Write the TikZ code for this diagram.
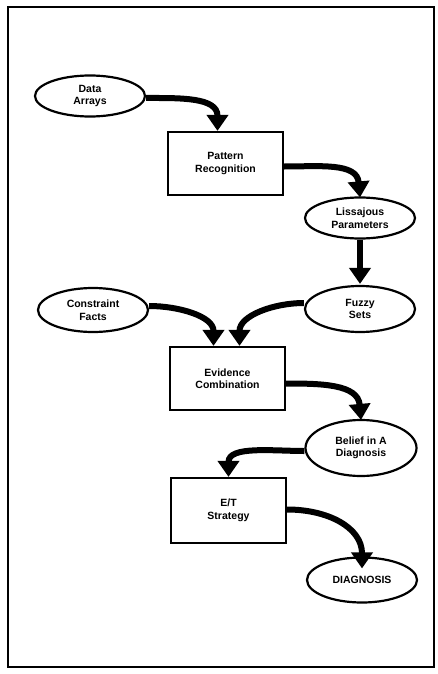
\documentclass[tikz,border=0pt]{standalone}
\usepackage{fontspec}
\setmainfont{Liberation Sans}
\usetikzlibrary{shapes.geometric,arrows.meta}
\begin{document}
\begin{tikzpicture}[x=1pt,y=-1pt,
  lbl/.style={font=\fontsize{10.5}{12.5}\selectfont\bfseries, align=center},
  oval/.style={lbl, ellipse, draw, line width=2.2pt, inner sep=0pt},
  boxnode/.style={lbl, rectangle, draw, line width=2.2pt, inner sep=0pt, minimum width=115pt, minimum height=63pt},
  arr/.style={line width=6pt, -{Triangle[width=21pt,length=16pt]}}]
\useasboundingbox (0,0) rectangle (437,674);
\draw[line width=1.4pt] (8,7) rectangle (434,667);
% nodes
\node[oval, minimum width=110pt, minimum height=41pt] (da) at (90,96) {Data\\Arrays};
\node[boxnode] (pr) at (225.5,163.5) {Pattern\\Recognition};
\node[oval, minimum width=110pt, minimum height=41pt] (lp) at (360,218) {Lissajous\\Parameters};
\node[oval, minimum width=110pt, minimum height=46pt] (fs) at (360,309) {Fuzzy\\Sets};
\node[oval, minimum width=110pt, minimum height=44pt] (cf) at (93,310) {Constraint\\Facts};
\node[boxnode] (ec) at (227.5,378.5) {Evidence\\Combination};
\node[oval, minimum width=111pt, minimum height=56pt] (bd) at (361,448) {Belief in A\\Diagnosis};
\node[boxnode, minimum height=65pt] (et) at (228.5,510.5) {E/T\\Strategy};
\node[oval, minimum width=110pt, minimum height=45pt] (dg) at (362,580) {DIAGNOSIS};
% connectors
\draw[arr] (da.east) ++(0,2) to[out=0,in=90,looseness=1.1] ([xshift=-8pt]pr.north);
\draw[arr] ([yshift=-3pt]pr.east) to[out=0,in=95,looseness=1.1] ([yshift=-1pt]lp.north);
\draw[arr] (lp.south) -- ([yshift=1pt]fs.north);
\draw[arr] ([yshift=4pt]cf.east) to[out=0,in=90,looseness=1.0] ([xshift=-14pt]ec.north);
\draw[arr] ([yshift=6pt]fs.west) to[out=180,in=90,looseness=1.0] ([xshift=12pt]ec.north);
\draw[arr] ([yshift=-5pt]ec.east) to[out=0,in=95,looseness=1.1] ([yshift=-1pt]bd.north);
\draw[arr] ([yshift=-3pt]bd.west) to[out=180,in=90,looseness=1.0] ([xshift=0pt]et.north);
\draw[arr] ([yshift=1pt]et.east) to[out=0,in=90,looseness=1.1] ([yshift=-12pt]dg.north);
\end{tikzpicture}
\end{document}
